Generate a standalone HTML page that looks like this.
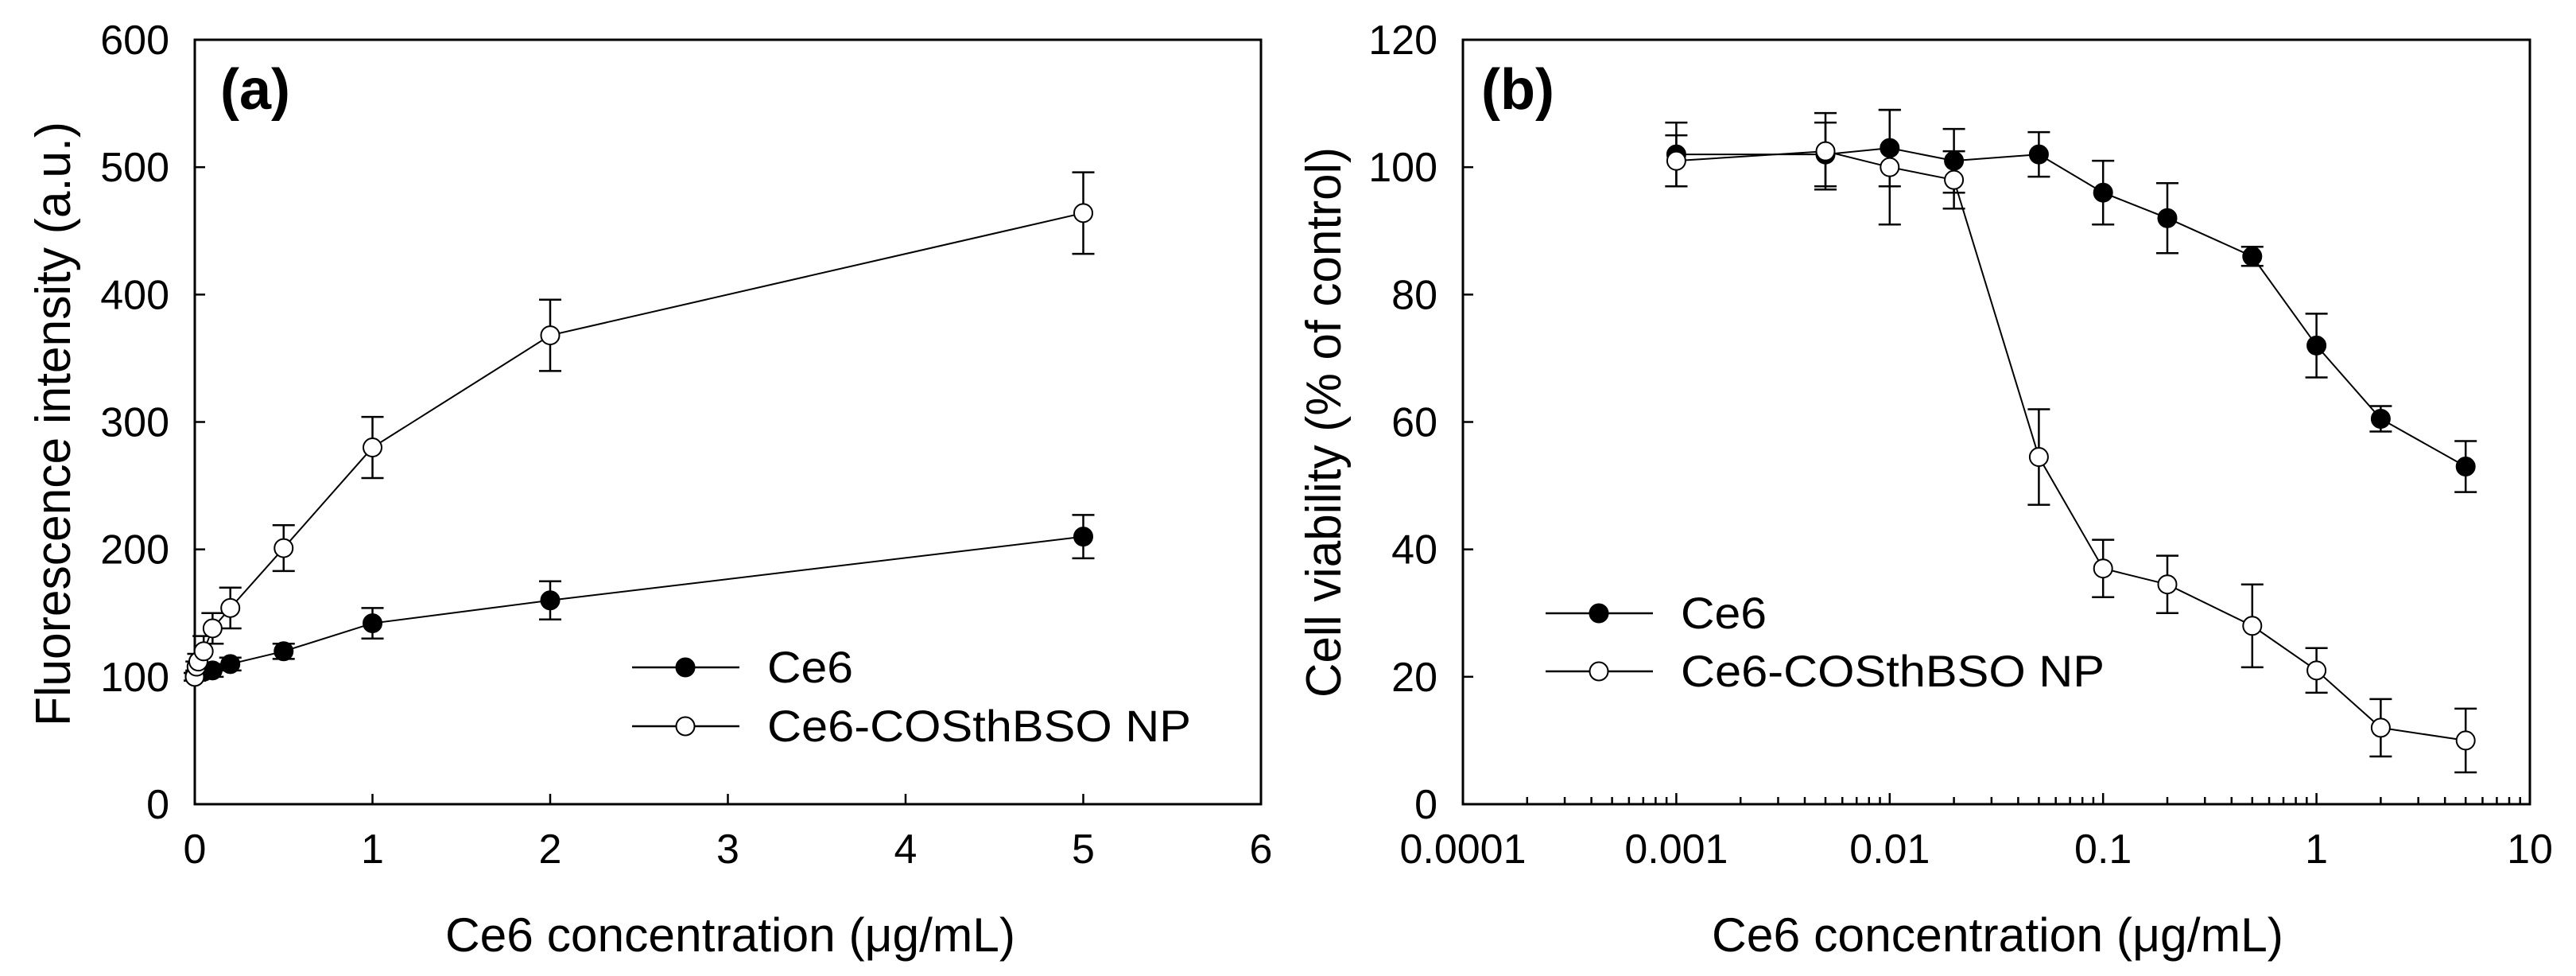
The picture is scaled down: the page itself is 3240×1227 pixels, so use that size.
<!DOCTYPE html>
<html><head><meta charset="utf-8"><style>
html,body{margin:0;padding:0;background:#fff;}
svg{display:block;}
text{font-family:"Liberation Sans",Arial,sans-serif;fill:#000;}
</style></head><body>
<svg id="fig" width="3240" height="1227" viewBox="0 0 3240 1227" xmlns="http://www.w3.org/2000/svg">
<g id="pa"></g>
<g id="pb"></g>
</svg>
<script>
// Panel (a) data
const aCe6X   = [0, 0.01, 0.05, 0.1, 0.2, 0.5, 1, 2, 5];
const aCe6Y   = [100, 102, 104, 105, 110, 120, 142, 160, 210];
const aCe6E   = [3, 3, 4, 5, 5, 6, 12, 15, 17];
const aNpX    = [0, 0.01, 0.02, 0.05, 0.1, 0.2, 0.5, 1, 2, 5];
const aNpY    = [100, 108, 112, 120, 138, 154, 201, 280, 368, 464];
const aNpE    = [3, 4, 6, 12, 12, 16, 18, 24, 28, 32];
const aXTicks = [0, 1, 2, 3, 4, 5, 6];
const aYTicks = [0, 100, 200, 300, 400, 500, 600];
// Panel (b) data
const bX      = [0.001, 0.005, 0.01, 0.02, 0.05, 0.1, 0.2, 0.5, 1, 2, 5];
const bCe6Y   = [102, 102, 103, 101, 102, 96, 92, 86, 72, 60.5, 53];
const bCe6E   = [5, 5, 6, 5, 3.5, 5, 5.5, 1.5, 5, 2, 4];
const bNpY    = [101, 102.5, 100, 98, 54.5, 37, 34.5, 28, 21, 12, 10];
const bNpE    = [4, 6, 9, 4.5, 7.5, 4.5, 4.5, 6.5, 3.5, 4.5, 5];
const bXTicks = ["0.0001", "0.001", "0.01", "0.1", "1", "10"];
const bYTicks = [0, 20, 40, 60, 80, 100, 120];

const NS = "http://www.w3.org/2000/svg";
function mk(parent, tag, attrs, txt){
  const e = document.createElementNS(NS, tag);
  for (const k in attrs) e.setAttribute(k, attrs[k]);
  if (txt !== undefined) e.textContent = txt;
  parent.appendChild(e);
  return e;
}
const TOP = 50, BOT = 1011;

function drawPanel(g, o){
  const L = o.L, R = o.R;
  const sx = o.sx, sy = o.sy;
  const frame = mk(g, "rect", {x:L, y:TOP, width:R-L, height:BOT-TOP, fill:"none", stroke:"#000", "stroke-width":3});
  
  
  o.yTicks.forEach(v => {
    const y = sy(v);
    if (v !== o.yTicks[0] && v !== o.yTicks[o.yTicks.length-1]) {
      const t = mk(g, "line", {x1:L, x2:L+13, y1:y, y2:y, stroke:"#000", "stroke-width":2.5});
      
      
    }
    const lb = mk(g, "text", {x:L-32, y:y+18, "font-size":52, "text-anchor":"end"}, String(v));
    
    
  });
  o.xTicks(g);
  const xt = mk(g, "text", {x:o.xtX, y:1196, "font-size":60, textLength:o.xtLen, lengthAdjust:"spacingAndGlyphs"}, "Ce6 concentration (\u03bcg/mL)");
  
  
  const yt = mk(g, "text", {x:0, y:0, "font-size":62, "text-anchor":"middle", textLength:o.ytLen, lengthAdjust:"spacingAndGlyphs", transform:"translate("+o.ytX+","+o.ytY+") rotate(-90)"}, o.ytText);
  
  
  const pl = mk(g, "text", {x:o.plX, y:137, "font-size":72, "font-weight":"bold"}, o.plText);
  
  
  o.series.forEach(s => {
    const sg = mk(g, "g", {});
    
    
    const pts = s.x.map((xv,i)=>sx(xv)+","+sy(s.y[i])).join(" ");
    const pline = mk(sg, "polyline", {points:pts, fill:"none", stroke:"#000", "stroke-width":2});
    
    
    s.x.forEach((xv,i)=>{
      const cx = sx(xv), yt2 = sy(s.y[i]+s.e[i]), yb = sy(s.y[i]-s.e[i]);
      const eb = mk(sg, "path", {d:"M"+cx+","+yt2+"V"+yb+"M"+(cx-14)+","+yt2+"h28M"+(cx-14)+","+yb+"h28", stroke:"#000", "stroke-width":2.5, fill:"none"});
      
      
    });
    s.x.forEach((xv,i)=>{
      const c = mk(sg, "ellipse", {cx:sx(xv), cy:sy(s.y[i]), rx:11.5, ry:11.5, fill:s.fill, stroke:"#000", "stroke-width":2});
      
      
    });
  });
  const lg = mk(g, "g", {});
  
  
  [["Ce6","#000",o.lgY1, 108],["Ce6-COSthBSO NP","#fff",o.lgY2, 533]].forEach(r=>{
    const en = mk(lg, "g", {});
    
    
    mk(en, "line", {x1:o.lgX, x2:o.lgX+135, y1:r[2], y2:r[2], stroke:"#000", "stroke-width":2.5});
    mk(en, "ellipse", {cx:o.lgX+67, cy:r[2], rx:11.5, ry:11.5, fill:r[1], stroke:"#000", "stroke-width":2});
    mk(en, "text", {x:o.lgX+170, y:r[2]+19, "font-size":56, textLength:r[3], lengthAdjust:"spacingAndGlyphs"}, r[0]);
  });
}

(function(){
  const L=245, R=1586;
  const sx = v => L + (v-0)/(6-0)*(R-L);
  const sy = v => BOT - v/600*(BOT-TOP);
  drawPanel(document.getElementById("pa"), {
    L, R, sx, sy, yTicks:aYTicks,
    xTicks: g => aXTicks.forEach(v=>{
      const x = sx(v);
      if (v!==aXTicks[0] && v!==aXTicks[aXTicks.length-1]) {
        const t = mk(g,"line",{x1:x,x2:x,y1:BOT,y2:BOT-13,stroke:"#000","stroke-width":2.5});
        
        
      }
      const lb = mk(g,"text",{x:x,y:1085,"font-size":52,"text-anchor":"middle"},String(v));
      
      
    }),
    xtX:560, xtLen:717, ytX:88, ytY:533, ytLen:760, ytText:"Fluorescence intensity (a.u.)",
    plX:277, plText:"(a)",
    series:[
      {name:"series-ce6", x:aCe6X, y:aCe6Y, e:aCe6E, fill:"#000"},
      {name:"series-ce6-np", x:aNpX, y:aNpY, e:aNpE, fill:"#fff"}
    ],
    lgX:795, lgY1:839, lgY2:913
  });
})();

(function(){
  const L=1840, R=3182;
  const lmin=-4, lmax=1;
  const sx = v => L + (Math.log10(v)-lmin)/(lmax-lmin)*(R-L);
  const sy = v => BOT - v/120*(BOT-TOP);
  drawPanel(document.getElementById("pb"), {
    L, R, sx, sy, yTicks:bYTicks,
    xTicks: g => bXTicks.forEach((lab,i)=>{
      const v = parseFloat(lab), x = sx(v);
      if (i>0 && i<bXTicks.length-1) {
        const t = mk(g,"line",{x1:x,x2:x,y1:BOT,y2:BOT-14,stroke:"#000","stroke-width":2.5});
        
        
      }
      if (i<bXTicks.length-1) {
        for (let m=2;m<=9;m++){
          const xm = sx(v*m);
          const t = mk(g,"line",{x1:xm,x2:xm,y1:BOT,y2:BOT-9,stroke:"#000","stroke-width":2.5});
          
          
        }
      }
      const lb = mk(g,"text",{x:x,y:1085,"font-size":52,"text-anchor":"middle"},lab);
      
      
    }),
    xtX:2153, xtLen:719, ytX:1686, ytY:531, ytLen:692, ytText:"Cell viability (% of control)",
    plX:1863, plText:"(b)",
    series:[
      {name:"series-ce6", x:bX, y:bCe6Y, e:bCe6E, fill:"#000"},
      {name:"series-ce6-np", x:bX, y:bNpY, e:bNpE, fill:"#fff"}
    ],
    lgX:1944, lgY1:771, lgY2:844
  });
})();
</script>
</body></html>
